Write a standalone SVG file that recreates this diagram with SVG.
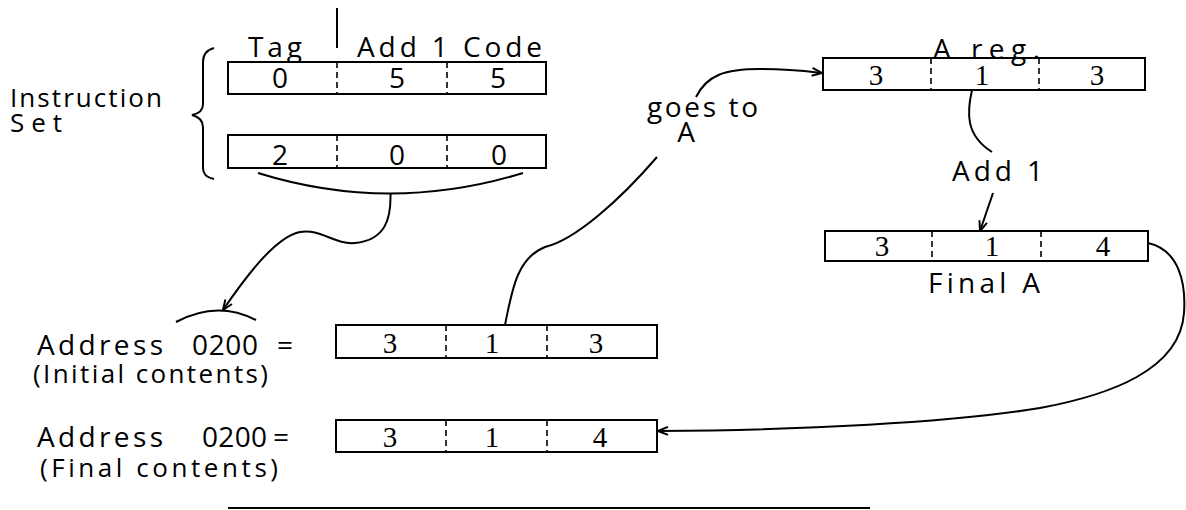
<svg xmlns="http://www.w3.org/2000/svg" width="1186" height="510" viewBox="0 0 1186 510">
<style>
.box{fill:#fff;stroke:#000;stroke-width:2}
.div{stroke:#000;stroke-width:1.6;stroke-dasharray:6 4}
.lbl{font-family:"Open Sans","DejaVu Sans",sans-serif;font-size:28px;fill:#000}
.sm{font-size:26px}
.dg{font-family:"Open Sans","DejaVu Sans",sans-serif;font-size:28px;fill:#000;text-anchor:middle}
.rd{font-family:"Liberation Serif","DejaVu Serif",serif;font-size:29px;fill:#000;text-anchor:middle}
.ln{fill:none;stroke:#000;stroke-width:2}
.arr{marker-end:url(#ah)}
</style>
<defs>
<marker id="ah" viewBox="0 0 12 10" refX="11" refY="5" markerWidth="12" markerHeight="10" markerUnits="userSpaceOnUse" orient="auto">
<path d="M1,1 L11,5 L1,9" fill="none" stroke="#000" stroke-width="2"/>
</marker>
</defs>
<rect width="1186" height="510" fill="#fff"/>

<g id="instruction-label">
<text class="lbl sm" x="10" y="107" textLength="152" lengthAdjust="spacing">Instruction</text>
<text class="lbl sm" x="10" y="132" textLength="52" lengthAdjust="spacing">Set</text>
<path class="ln" d="M214,48 Q203,51 203,62 L203,104 Q203,113 192,115 Q203,118 203,127 L203,168 Q203,177 214,179"/>
</g>

<g id="field-labels">
<line x1="337" y1="8" x2="337" y2="48" stroke="#000" stroke-width="2"/>
<text class="lbl" x="248" y="57" textLength="54" lengthAdjust="spacing">Tag</text>
<text class="lbl" x="357" y="57" textLength="185" lengthAdjust="spacing">Add 1 Code</text>
</g>

<g id="instr-word-1">
<rect class="box" x="228" y="62" width="318" height="32"/>
<line class="div" x1="337" y1="62" x2="337" y2="94"/>
<line class="div" x1="447" y1="62" x2="447" y2="94"/>
<text class="dg" x="280" y="88">0</text>
<text class="dg" x="397" y="88">5</text>
<text class="dg" x="498" y="88">5</text>
</g>

<g id="instr-word-2">
<rect class="box" x="228" y="135" width="318" height="33"/>
<line class="div" x1="337" y1="135" x2="337" y2="168"/>
<line class="div" x1="447" y1="135" x2="447" y2="168"/>
<text class="dg" x="280" y="165">2</text>
<text class="dg" x="397" y="165">0</text>
<text class="dg" x="499" y="165">0</text>
</g>

<g id="a-reg">
<rect class="box" x="823" y="58" width="322" height="32"/>
<line class="div" x1="931" y1="58" x2="931" y2="90"/>
<line class="div" x1="1039" y1="58" x2="1039" y2="90"/>
<text class="lbl" x="933" y="59" textLength="107" lengthAdjust="spacing">A reg.</text>
<text class="rd" x="876" y="85">3</text>
<text class="rd" x="982" y="85">1</text>
<text class="rd" x="1097" y="85">3</text>
</g>

<g id="add-1">
<text class="lbl" x="952" y="181" textLength="91" lengthAdjust="spacing">Add 1</text>
</g>

<g id="final-a">
<rect class="box" x="825" y="231" width="323" height="30"/>
<line class="div" x1="932" y1="231" x2="932" y2="261"/>
<line class="div" x1="1041" y1="231" x2="1041" y2="261"/>
<text class="rd" x="882" y="256">3</text>
<text class="rd" x="992" y="256">1</text>
<text class="rd" x="1103" y="256">4</text>
<text class="lbl" x="928" y="293" textLength="112" lengthAdjust="spacing">Final A</text>
</g>

<g id="goes-to-label">
<text class="lbl" x="647" y="117" textLength="111" lengthAdjust="spacing">goes to</text>
<text class="lbl" x="686" y="142" text-anchor="middle">A</text>
</g>

<g id="address-initial">
<text class="lbl" y="355"><tspan x="37" textLength="126" lengthAdjust="spacing">Address</tspan><tspan x="192" textLength="66" lengthAdjust="spacing">0200</tspan><tspan x="277">=</tspan></text>
<text class="lbl sm" x="33" y="383" textLength="235" lengthAdjust="spacing">(Initial contents)</text>
<rect class="box" x="336" y="325" width="321" height="33"/>
<line class="div" x1="446" y1="325" x2="446" y2="358"/>
<line class="div" x1="547" y1="325" x2="547" y2="358"/>
<text class="rd" x="390" y="353">3</text>
<text class="rd" x="492" y="353">1</text>
<text class="rd" x="596" y="353">3</text>
</g>

<g id="address-final">
<text class="lbl" y="447"><tspan x="37" textLength="126" lengthAdjust="spacing">Address</tspan><tspan x="202" textLength="65" lengthAdjust="spacing">0200</tspan><tspan x="273">=</tspan></text>
<text class="lbl sm" x="40" y="477" textLength="238" lengthAdjust="spacing">(Final contents)</text>
<rect class="box" x="336" y="420" width="321" height="32"/>
<line class="div" x1="446" y1="420" x2="446" y2="452"/>
<line class="div" x1="547" y1="420" x2="547" y2="452"/>
<text class="rd" x="390" y="447">3</text>
<text class="rd" x="492" y="447">1</text>
<text class="rd" x="600" y="447">4</text>
</g>

<g id="connectors">
<path class="ln" d="M258,173 Q390,214 523,173"/>
<path class="ln arr" d="M390.5,194 C391,218 386,240 355,243 C335,245 320,228 300,232 C275,237 245,278 223,310"/>
<path class="ln" d="M176,322 Q217,300 256,320"/>
<path class="ln" d="M505,325 C512,290 517,258 545,247 C575,240 620,200 657,157"/>
<path class="ln arr" d="M696,97 C707,75 725,69 760,69 C790,69 805,71 822,73"/>
<path class="ln" d="M972,90 C967,112 965,135 992,152"/>
<path class="ln arr" d="M993,193 L980,231"/>
<path class="ln arr" d="M1148,243 C1180,250 1186,285 1184,313 C1180,370 1110,395 1040,408 C950,423 800,430 658,431"/>
<line x1="228" y1="508" x2="870" y2="508" stroke="#000" stroke-width="2"/>
</g>
</svg>
